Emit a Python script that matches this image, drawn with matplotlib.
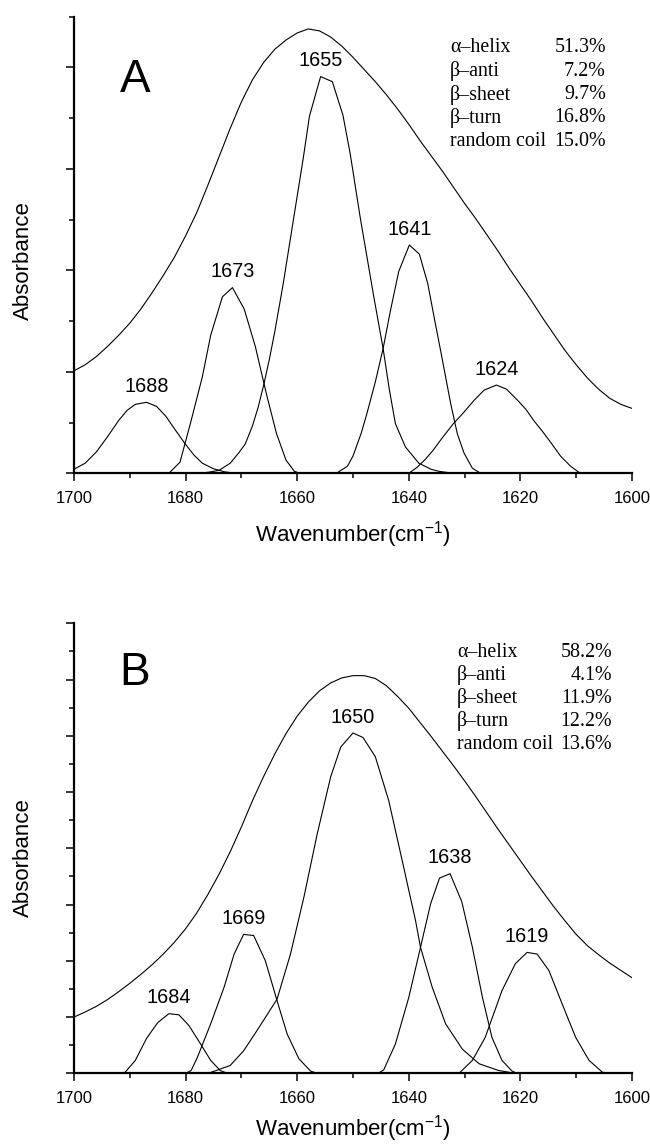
import numpy as np
import matplotlib
matplotlib.use('Agg')
import matplotlib.pyplot as plt
from matplotlib.ticker import MultipleLocator

plt.rcParams['font.family'] = ['Liberation Sans', 'DejaVu Sans']
plt.rcParams['mathtext.fontset'] = 'custom'
plt.rcParams['mathtext.rm'] = 'Liberation Sans'

# structure names shared by both panels
structures = ['α–helix', 'β–anti', 'β–sheet', 'β–turn', 'random coil']

# ---------------- panel A ----------------
a_pct = ['51.3%', '7.2%', '9.7%', '16.8%', '15.0%']
a_peak_labels = ['1688', '1673', '1655', '1641', '1624']

a_env_wn = [1700, 1698, 1696, 1694, 1692, 1690, 1688, 1686, 1684, 1682, 1680,
            1678, 1676, 1674, 1672, 1670, 1668, 1666, 1664, 1662, 1660,
            1658, 1656, 1654, 1652, 1650, 1648, 1646, 1644, 1642, 1640,
            1638, 1636, 1634, 1632, 1630, 1628, 1626, 1624, 1622, 1620,
            1618, 1616, 1614, 1612, 1610, 1608, 1606, 1604, 1602, 1600]
a_env_abs = [1.01, 1.07, 1.15, 1.25, 1.36, 1.48, 1.62, 1.78, 1.95, 2.13, 2.34,
             2.57, 2.84, 3.12, 3.40, 3.66, 3.88, 4.05, 4.18, 4.27, 4.34,
             4.38, 4.36, 4.30, 4.21, 4.10, 3.98, 3.86, 3.73, 3.59, 3.44,
             3.28, 3.13, 2.98, 2.82, 2.66, 2.51, 2.35, 2.19, 2.02, 1.86,
             1.70, 1.53, 1.37, 1.21, 1.07, 0.94, 0.83, 0.74, 0.68, 0.64]

a_1688_wn = [1700, 1698, 1696, 1694, 1692, 1690.5, 1689, 1687, 1685.2, 1683.5, 1682,
             1680.2, 1678.5, 1677, 1675, 1673, 1671]
a_1688_abs = [0.04, 0.10, 0.21, 0.36, 0.52, 0.62, 0.68, 0.70, 0.66, 0.56, 0.44,
              0.30, 0.18, 0.10, 0.045, 0.015, 0.0]

a_1673_wn = [1683, 1681, 1679, 1677, 1675.5, 1673.4, 1671.6, 1669.5, 1667.5, 1665.5,
             1663.7, 1662, 1660.5, 1659.5]
a_1673_abs = [0.0, 0.11, 0.52, 0.95, 1.36, 1.74, 1.83, 1.62, 1.25, 0.78,
              0.39, 0.13, 0.02, 0.0]

a_1655_wn = [1678, 1676, 1674, 1672, 1670.5, 1669.3, 1668, 1667, 1666, 1665, 1664,
             1662.5, 1660.7, 1658.9, 1657.8, 1655.8, 1653.7, 1651.8, 1650.5, 1648.7,
             1646.3, 1644.6, 1643.5, 1642.4, 1640.6, 1638.2, 1636, 1634.6, 1632]
a_1655_abs = [0.0, 0.01, 0.03, 0.10, 0.20, 0.29, 0.47, 0.65, 0.87, 1.12, 1.40,
              1.87, 2.49, 3.11, 3.52, 3.91, 3.86, 3.53, 3.15, 2.52,
              1.75, 1.23, 0.83, 0.49, 0.26, 0.10, 0.04, 0.02, 0.0]

a_1641_wn = [1653, 1651, 1650, 1648.5, 1647.5, 1646, 1644.6, 1643.3, 1641.8, 1639.9,
             1638.1, 1636.6, 1635.5, 1634.3, 1633.4, 1632.5, 1631.3, 1630.1, 1628.6, 1627.1]
a_1641_abs = [0.0, 0.07, 0.17, 0.40, 0.59, 0.90, 1.23, 1.60, 1.99, 2.25,
              2.16, 1.87, 1.55, 1.21, 0.95, 0.69, 0.39, 0.20, 0.05, 0.0]

a_1624_wn = [1640, 1638.5, 1637, 1635.6, 1634, 1632, 1630, 1628.3, 1626.5, 1624.3,
             1622.5, 1620.5, 1619, 1617.6, 1616, 1614.5, 1612.8, 1611, 1609.5, 1609]
a_1624_abs = [0.0, 0.06, 0.14, 0.23, 0.35, 0.49, 0.61, 0.72, 0.82, 0.87,
              0.83, 0.72, 0.63, 0.52, 0.41, 0.30, 0.17, 0.07, 0.01, 0.0]

# ---------------- panel B ----------------
b_pct = ['58.2%', '4.1%', '11.9%', '12.2%', '13.6%']
b_peak_labels = ['1684', '1669', '1650', '1638', '1619']

b_env_wn = [1700, 1698, 1696, 1694, 1692, 1690, 1688, 1686, 1684, 1682, 1680,
            1678, 1676, 1674, 1672, 1670, 1668, 1666, 1664, 1662, 1660,
            1658, 1656, 1654, 1652, 1650, 1648, 1646, 1644, 1642, 1640,
            1638, 1636, 1634, 1632, 1630, 1628, 1626, 1624, 1622, 1620,
            1618, 1616, 1614, 1612, 1610, 1608, 1606, 1604, 1602, 1600]
b_env_abs = [1.00, 1.09, 1.19, 1.31, 1.45, 1.60, 1.76, 1.93, 2.12, 2.33, 2.57,
             2.85, 3.18, 3.54, 3.94, 4.38, 4.85, 5.28, 5.68, 6.04, 6.35,
             6.60, 6.80, 6.94, 7.03, 7.07, 7.07, 7.02, 6.89, 6.70, 6.49,
             6.24, 5.99, 5.73, 5.47, 5.20, 4.92, 4.63, 4.34, 4.06, 3.78,
             3.50, 3.23, 2.96, 2.71, 2.47, 2.27, 2.11, 1.96, 1.83, 1.70]

b_1684_wn = [1691, 1689, 1687, 1685, 1683, 1681.2, 1679.4, 1677.3, 1675.5, 1673.8, 1672.5]
b_1684_abs = [0.0, 0.23, 0.62, 0.90, 1.06, 1.04, 0.85, 0.52, 0.23, 0.05, 0.0]

b_1669_wn = [1680, 1679, 1677.9, 1675.5, 1673.1, 1671.3, 1669.6, 1667.8, 1665.7, 1663.6,
             1661.8, 1659.7, 1657.6, 1656.4]
b_1669_abs = [0.0, 0.05, 0.28, 0.88, 1.53, 2.12, 2.47, 2.45, 2.00, 1.29,
              0.70, 0.26, 0.04, 0.0]

b_1650_wn = [1676, 1674.5, 1672, 1669.6, 1667.2, 1663.6, 1661.2, 1658.8, 1656.4, 1654,
             1652.2, 1650, 1648.2, 1646, 1643.6, 1641.2, 1638.8, 1637.9, 1635.8, 1633.4,
             1630.4, 1627.4, 1623.9, 1620.9]
b_1650_abs = [0.0, 0.05, 0.14, 0.40, 0.76, 1.32, 2.12, 3.13, 4.26, 5.27,
              5.80, 6.05, 5.97, 5.63, 4.85, 3.79, 2.72, 2.24, 1.53, 0.88,
              0.43, 0.17, 0.05, 0.0]

b_1638_wn = [1645.5, 1644.5, 1642.4, 1640, 1637.9, 1636.1, 1634.5, 1632.6, 1630.5, 1628.6,
             1626.8, 1625.1, 1623.3, 1621.5, 1620.6]
b_1638_abs = [0.0, 0.06, 0.52, 1.35, 2.24, 3.01, 3.47, 3.55, 3.05, 2.24,
              1.35, 0.64, 0.23, 0.04, 0.0]

b_1619_wn = [1631, 1628.6, 1626.3, 1623.3, 1620.9, 1618.8, 1617, 1614.9, 1612.5, 1610.1,
             1607.7, 1605.3, 1604.1]
b_1619_abs = [0.0, 0.23, 0.64, 1.47, 1.95, 2.15, 2.12, 1.83, 1.23, 0.64,
              0.23, 0.02, 0.0]


def draw_panel(ax, letter, env, bands, peak_labels, pcts, ymax, text_x, text_y,
               ylab_y, xlab_y):
    ax.plot(env[0], env[1], color='black', lw=0.8)
    for (wn, ab), lab in zip(bands, peak_labels):
        ax.plot(wn, ab, color='black', lw=0.8)
        i = int(np.argmax(ab))
        ax.annotate(lab, (wn[i], ab[i]), xytext=(0, 7.5), textcoords='offset points',
                    ha='center', va='baseline', fontsize=14.3)

    ax.set_xlim(1700, 1600)
    ax.set_ylim(0, ymax)
    ax.xaxis.set_major_locator(MultipleLocator(20))
    ax.xaxis.set_minor_locator(MultipleLocator(10))
    ax.yaxis.set_major_locator(MultipleLocator(1))
    ax.yaxis.set_minor_locator(MultipleLocator(0.5))
    ax.tick_params(axis='both', which='major', direction='out', length=5.5, width=1.1,
                   labelsize=12, pad=7.5)
    ax.tick_params(axis='both', which='minor', direction='out', length=3.4, width=1.1)
    ax.tick_params(axis='y', which='both', labelleft=False)
    for side in ['top', 'right']:
        ax.spines[side].set_visible(False)
    for side in ['left', 'bottom']:
        ax.spines[side].set_linewidth(1.6)

    ax.set_xlabel('Wavenumber(cm$^{\\mathregular{-1}}$)', fontsize=16)
    ax.set_ylabel('Absorbance', fontsize=16)
    ax.xaxis.set_label_coords(0.5, xlab_y)
    ax.yaxis.set_label_coords(-0.072, ylab_y)

    ax.text(0.109, text_y[0], letter, transform=ax.transAxes, fontsize=33,
            ha='center', va='baseline')

    # secondary structure table
    for k, (name, pct) in enumerate(zip(structures, pcts)):
        y = text_y[1] - k * text_y[2]
        ax.text(text_x[0], y, name, transform=ax.transAxes, ha='left', va='center',
                fontsize=14.4, family=['Liberation Serif', 'DejaVu Serif'])
        ax.text(text_x[1], y, pct, transform=ax.transAxes, ha='right', va='center',
                fontsize=14.4, family=['Liberation Serif', 'DejaVu Serif'])


fig = plt.figure(figsize=(6.5, 11.45), dpi=100)
ax_a = fig.add_axes([0.1138, 0.5866, 0.8585, 0.3988])
ax_b = fig.add_axes([0.1138, 0.0626, 0.8585, 0.3930])

draw_panel(ax_a, 'A', (a_env_wn, a_env_abs),
           [(a_1688_wn, a_1688_abs), (a_1673_wn, a_1673_abs), (a_1655_wn, a_1655_abs),
            (a_1641_wn, a_1641_abs), (a_1624_wn, a_1624_abs)],
           a_peak_labels, a_pct, 4.5, (0.674, 0.953), (0.835, 0.932, 0.0512), 0.465, -0.1)
draw_panel(ax_b, 'B', (b_env_wn, b_env_abs),
           [(b_1684_wn, b_1684_abs), (b_1669_wn, b_1669_abs), (b_1650_wn, b_1650_abs),
            (b_1638_wn, b_1638_abs), (b_1619_wn, b_1619_abs)],
           b_peak_labels, b_pct, 8, (0.686, 0.964), (0.863, 0.935, 0.0508), 0.48, -0.088)

fig.savefig('out.png', dpi=100)
